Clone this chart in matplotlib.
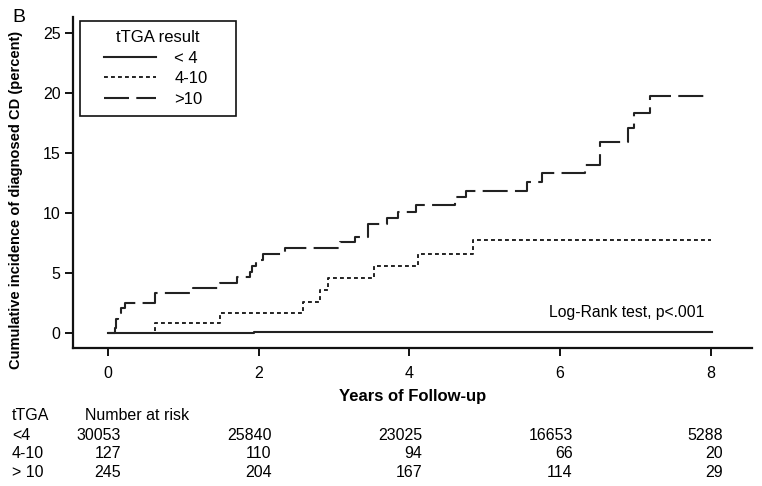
#!/usr/bin/env python3
"""
Purpose: Kaplan-Meier style cumulative incidence of CD by tTGA result
"""

import matplotlib
matplotlib.use('Agg')
import matplotlib.pyplot as plt
import matplotlib.transforms as mtransforms
from matplotlib.legend_handler import HandlerLine2D

plt.rcParams['font.family'] = ['Liberation Sans', 'DejaVu Sans']

# step curves: event times (years) and cumulative incidence (percent)
low_times = [0.0, 1.94, 8.02]
low_pct = [0.0, 0.08, 0.08]

mid_times = [0.0, 0.63, 1.49, 2.59, 2.82, 2.92, 3.53, 4.12, 4.84, 8.0]
mid_pct = [0.0, 0.8, 1.65, 2.55, 3.55, 4.55, 5.55, 6.6, 7.75, 7.75]

high_times = [0.0, 0.09, 0.10, 0.11, 0.13, 0.17, 0.23, 0.63, 1.13, 1.49,
              1.71, 1.88, 1.91, 1.96, 2.06, 2.35, 3.08, 3.28, 3.45, 3.70,
              3.85, 4.09, 4.61, 4.75, 5.56, 5.76, 6.33, 6.53, 6.90, 6.99,
              7.20, 7.97]
high_pct = [0.0, 0.4, 0.8, 1.2, 1.7, 2.1, 2.5, 3.3, 3.75, 4.2,
            4.65, 5.1, 5.6, 6.1, 6.55, 7.05, 7.55, 8.0, 9.05, 9.6,
            10.1, 10.65, 11.3, 11.85, 12.55, 13.3, 14.0, 15.9, 17.1, 18.3,
            19.7, 19.7]

group_labels = ['< 4', '4-10', '>10']
risk_labels = ['<4', '4-10', '> 10']
risk_times = [0, 2, 4, 6, 8]
risk_low = [30053, 25840, 23025, 16653, 5288]
risk_mid = [127, 110, 94, 66, 20]
risk_high = [245, 204, 167, 114, 29]

LINE = '#222222'


# --------------------------------------------------
def main():
    """Draw the figure"""

    fig = plt.figure(figsize=(7.62, 4.86), dpi=100)
    ax = fig.add_axes([0.0958, 0.284, 0.891, 0.681])

    ax.step(low_times, low_pct, where='post', color=LINE, lw=1.5,
            label=group_labels[0])
    ax.step(mid_times, mid_pct, where='post', color=LINE, lw=1.4,
            linestyle=(0, (2.0, 1.6)), label=group_labels[1])
    ax.step(high_times, high_pct, where='post', color=LINE, lw=1.5,
            linestyle=(0, (12, 3.5)), label=group_labels[2])

    ax.set_xlim(-0.465, 8.55)
    ax.set_ylim(-1.25, 26.3)
    ax.set_xticks([0, 2, 4, 6, 8])
    ax.set_yticks([0, 5, 10, 15, 20, 25])

    for side in ('top', 'right'):
        ax.spines[side].set_visible(False)
    for side in ('left', 'bottom'):
        ax.spines[side].set_linewidth(1.6)
        ax.spines[side].set_color('#111111')

    ax.tick_params(axis='both', labelsize=11.5, width=1.4, length=6,
                   color='#111111')
    ax.tick_params(axis='x', pad=7)
    ax.tick_params(axis='y', pad=3)

    ax.set_xlabel('Years of Follow-up', fontsize=12, fontweight='bold')
    ax.xaxis.set_label_coords(0.5, -0.124)
    ax.set_ylabel('Cumulative incidence of diagnosed CD (percent)',
                  fontsize=10.5, fontweight='bold')
    ax.yaxis.set_label_coords(-0.073, 0.447)

    ax.text(7.92, 1.7, 'Log-Rank test, p<.001', fontsize=11.3,
            ha='right', va='center')

    leg = ax.legend(title='tTGA result', loc='upper left',
                    bbox_to_anchor=(0.0103, 0.707, 0.2297, 0.281),
                    mode='expand', borderaxespad=0, fontsize=12,
                    title_fontsize=12, handlelength=4.02,
                    handletextpad=1.08, labelspacing=0.33, borderpad=0.55,
                    handler_map={plt.Line2D: HandlerLine2D(xpad=0.9)},
                    fancybox=False, framealpha=1, edgecolor='#111111')
    leg.get_frame().set_linewidth(1.2)

    fig.text(12 / 762, 1 - 18 / 486, 'B', fontsize=14, va='center')

    # number at risk table
    trans = mtransforms.blended_transform_factory(ax.transData,
                                                  fig.transFigure)
    fig.text(12 / 762, 1 - 415 / 486, 'tTGA', fontsize=11.5, va='center')
    fig.text(85 / 762, 1 - 415 / 486, 'Number at risk', fontsize=11.5,
             va='center')
    rows = [risk_low, risk_mid, risk_high]
    row_y = [435, 453, 472]
    for label, counts, y in zip(risk_labels, rows, row_y):
        fig.text(12 / 762, 1 - y / 486, label, fontsize=11.5, va='center')
        for t, n in zip(risk_times, counts):
            ax.text(t + 0.17, 1 - y / 486, str(n), transform=trans,
                    fontsize=11.5, ha='right', va='center')

    fig.savefig('out.png', dpi=100)


# --------------------------------------------------
if __name__ == '__main__':
    main()
